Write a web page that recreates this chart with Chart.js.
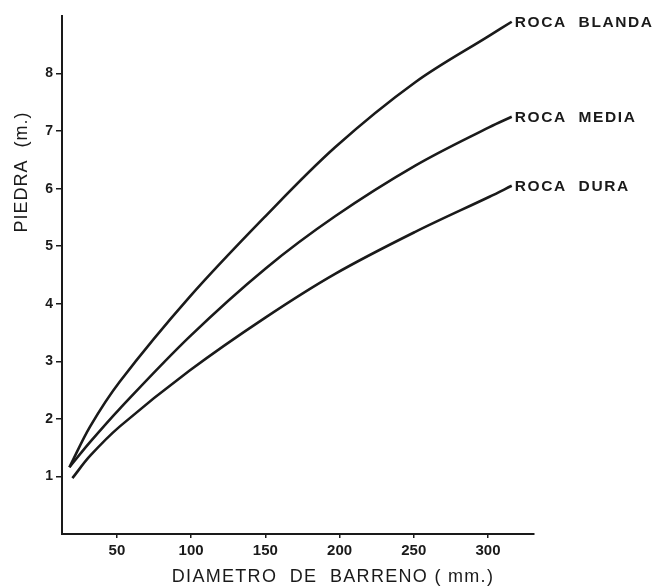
<!DOCTYPE html>
<html>
<head>
<meta charset="utf-8">
<script src="https://cdn.jsdelivr.net/npm/chart.js@4.4.1/dist/chart.umd.min.js"></script>
<style>
  body { margin: 0; background: #fff; }
  #wrap { width: 657px; height: 587px; position: relative; }
</style>
</head>
<body>
<div id="wrap"><canvas id="piedraChart"></canvas></div>
<script>
// Datos (diametro en mm, piedra en m)
const diametro = [18, 32, 52, 99, 150, 197, 251, 301, 316];
const diametroDura = [20, 32, 52, 99, 150, 197, 251, 301, 316];
const rocaBlanda = [1.16, 1.87, 2.65, 4.12, 5.52, 6.72, 7.85, 8.66, 8.9];
const rocaMedia = [1.16, 1.6, 2.18, 3.43, 4.61, 5.52, 6.4, 7.07, 7.25];
const rocaDura = [0.97, 1.36, 1.87, 2.84, 3.76, 4.52, 5.25, 5.86, 6.05];

const etiquetas = ["ROCA  BLANDA", "ROCA  MEDIA", "ROCA  DURA"];
const ticksX = [50, 100, 150, 200, 250, 300];
const ticksY = [1, 2, 3, 4, 5, 6, 7, 8];

const tituloX = "DIAMETRO  DE  BARRENO ( mm.)";
const tituloY = "PIEDRA  (m.)";

const ink = "#1a1a1a";
const fontName = "'Liberation Sans', Arial, sans-serif";

function toPoints(xs, ys) {
    return xs.map((x, i) => ({ x: x, y: ys[i] }));
}

function serie(label, xs, ys) {
    return {
        label: label,
        data: toPoints(xs, ys),
        borderColor: ink,
        borderWidth: 2.6,
        pointRadius: 0,
        fill: false,
        tension: 0.35
    };
}

// Etiquetas al final de cada curva y titulos de los ejes
const textosPlugin = {
    id: "textos",
    afterDraw(chart) {
        const ctx = chart.ctx;
        ctx.save();
        ctx.fillStyle = ink;

        ctx.font = "bold 15.5px " + fontName;
        ctx.letterSpacing = "1.6px";
        ctx.textAlign = "left";
        ctx.textBaseline = "middle";
        chart.data.datasets.forEach((ds, i) => {
            const meta = chart.getDatasetMeta(i);
            const last = meta.data[meta.data.length - 1];
            ctx.fillText(etiquetas[i], last.x + 3, last.y + 1);
        });

        ctx.font = "18px " + fontName;
        ctx.letterSpacing = "1.3px";
        ctx.textAlign = "center";
        ctx.textBaseline = "middle";
        ctx.fillText(tituloX, 333, 577);

        ctx.letterSpacing = "1px";
        ctx.translate(22, 172);
        ctx.rotate(-Math.PI / 2);
        ctx.fillText(tituloY, 0, 0);
        ctx.restore();
    }
};

const ctx = document.getElementById("piedraChart").getContext("2d");

new Chart(ctx, {
    type: "line",
    data: {
        datasets: [
            serie("Roca blanda", diametro, rocaBlanda),
            serie("Roca media", diametro, rocaMedia),
            serie("Roca dura", diametroDura, rocaDura)
        ]
    },
    options: {
        responsive: true,
        maintainAspectRatio: false,
        animation: false,
        layout: { padding: { left: 0, top: 16, right: 123, bottom: 23 } },
        plugins: {
            legend: { display: false },
            tooltip: { enabled: false }
        },
        scales: {
            x: {
                type: "linear",
                min: 13,
                max: 331,
                afterBuildTicks: (scale) => { scale.ticks = ticksX.map(v => ({ value: v })); },
                afterFit: (scale) => { scale.height = 30; },
                border: { display: true, color: ink, width: 2 },
                grid: { drawOnChartArea: false, drawTicks: true, tickLength: 4, color: ink, lineWidth: 1.5 },
                ticks: {
                    color: ink,
                    font: { family: fontName, size: 15, weight: "bold" },
                    padding: 4,
                    maxRotation: 0
                }
            },
            y: {
                min: 0,
                max: 9,
                afterBuildTicks: (scale) => { scale.ticks = ticksY.map(v => ({ value: v })); },
                afterFit: (scale) => { scale.width = 62; },
                border: { display: true, color: ink, width: 2 },
                grid: { drawOnChartArea: false, drawTicks: true, tickLength: 6, color: ink, lineWidth: 1.5 },
                ticks: {
                    color: ink,
                    font: { family: fontName, size: 14, weight: "bold" },
                    padding: 3
                }
            }
        }
    },
    plugins: [textosPlugin]
});
</script>
</body>
</html>
